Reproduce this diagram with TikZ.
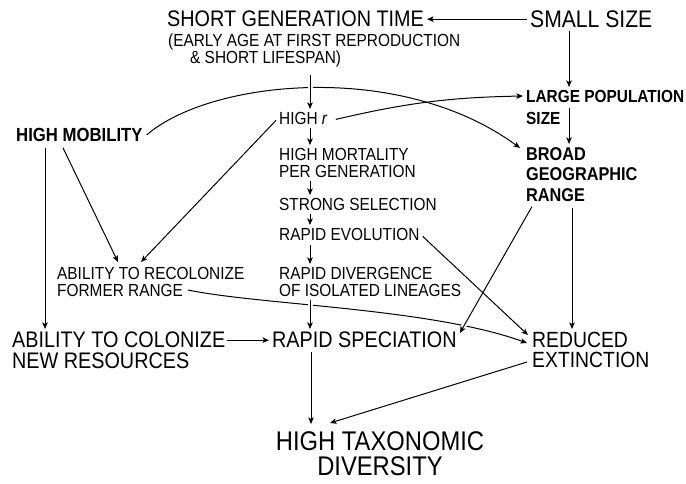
\documentclass[tikz,border=0pt]{standalone}
\usepackage{fontspec}
\setmainfont{Liberation Sans}[FakeStretch=0.88]
\usetikzlibrary{arrows.meta,calc}
\begin{document}
\begin{tikzpicture}[x=1pt,y=-1pt,
  lbl/.style={inner sep=0pt, anchor=north west, align=left},
  fsm/.style={font=\fontsize{17.5}{17}\selectfont},
  fmid/.style={font=\fontsize{22.5}{21}\selectfont},
  arr/.style={line width=1pt, -{Stealth[length=6.5pt,width=5.5pt,inset=1.5pt]}},
  gap/.style={preaction={draw,white,line width=5pt,-}}
]
\useasboundingbox (0,0) rectangle (686,483);

% nodes
\node[lbl,font=\fontsize{22.5}{22}\selectfont] (sgt) at (167,11) {SHORT GENERATION TIME};
\node[lbl,fsm] (early) at (168,34) {(EARLY AGE AT FIRST REPRODUCTION\\\hspace*{22pt}\& SHORT LIFESPAN)};
\node[lbl,font=\fontsize{24}{24}\selectfont] (ss) at (530,11) {SMALL SIZE};
\node[lbl,font=\bfseries\fontsize{19}{19}\selectfont] (hm) at (16,128) {HIGH MOBILITY};
\node[lbl,fsm] (hr) at (279,112) {HIGH \textit{r}};
\node[lbl,font=\bfseries\fontsize{17.5}{22}\selectfont] (lps) at (526,90) {LARGE POPULATION\\SIZE};
\node[lbl,font=\bfseries\fontsize{18.5}{20.5}\selectfont] (bgr) at (526,147) {BROAD\\GEOGRAPHIC\\RANGE};
\node[lbl,fsm] (hmort) at (279,148) {HIGH MORTALITY\\PER GENERATION};
\node[lbl,fsm] (sel) at (279,198) {STRONG SELECTION};
\node[lbl,fsm] (re) at (279,228) {RAPID EVOLUTION};
\node[lbl,fsm] (rd) at (279,267) {RAPID DIVERGENCE\\OF ISOLATED LINEAGES};
\node[lbl,fsm] (arc) at (57,267) {ABILITY TO RECOLONIZE\\FORMER RANGE};
\node[lbl,fmid] (atc) at (12,332) {ABILITY TO COLONIZE\\NEW RESOURCES};
\node[lbl,fmid] (rs) at (272,332) {RAPID SPECIATION};
\node[lbl,font=\fontsize{22}{20}\selectfont] (rex) at (532,332) {REDUCED\\EXTINCTION};
\node[inner sep=0pt,anchor=north,align=center,font=\fontsize{27}{25}\selectfont] (htd) at (380,431) {HIGH TAXONOMIC\\DIVERSITY};

% curves first (they get interrupted by later lines)
\draw[arr] ($(hm.east)+(4,0)$) .. controls (210,80) and (400,60) .. ($(bgr.north west)+(-6,1)$);
\draw[arr] ($(arc.north west)+(131,23)$) .. controls (260,305) and (430,308) .. ($(rex.north west)+(-5,11)$);

% connectors
\draw[arr] ($(ss.west |- sgt.east)+(-3,0)$) -- ($(sgt.east)+(3,0)$);
\draw[arr] ($(ss.south west)+(39,3)$) -- ($(lps.north west)+(43,-3)$);
\draw[arr] ($(lps.north west)+(43,18)$) -- ($(bgr.north west)+(43,-3)$);
\draw[arr,gap] ($(early.south west)+(142,7)$) -- ($(hr.north west)+(31,-3)$);
\draw[arr] ($(hr.south west)+(31,3)$) -- ($(hmort.north west)+(31,-3)$);
\draw[arr] ($(hmort.south west)+(31,3)$) -- ($(sel.north west)+(31,-3)$);
\draw[arr] ($(sel.south west)+(31,3)$) -- ($(re.north west)+(31,-3)$);
\draw[arr] ($(re.south west)+(31,4)$) -- ($(rd.north west)+(31,-3)$);
\draw[arr,gap] ($(rd.south west)+(31,3)$) -- ($(rd.south west |- rs.north)+(31,-3)$);
\draw[arr] ($(rs.south west)+(39,4)$) -- ($(rs.south west |- htd.north)+(39,-7)$);
\draw[arr] ($(rex.north west)+(-5,30)$) -- ($(htd.north)+(-50,-8)$);
\draw[arr] ($(atc.east |- rs.west)+(2,0)$) -- ($(rs.west)+(-3,0)$);
\draw[arr] ($(hm.south west)+(29,6)$) -- ($(atc.north west)+(33,-3)$);
\draw[arr] ($(hm.south west)+(47,6)$) -- ($(arc.north west)+(61,-5)$);
\draw[arr] ($(hr.west)+(-3,2)$) -- ($(arc.north west)+(84,-5)$);
\draw[arr] ($(hr.east)+(8,1)$) to[bend left=6] ($(lps.north west)+(-3,6)$);
\draw[arr,gap] ($(bgr.south west)+(6,5)$) -- ($(rs.north east)+(3,1)$);
\draw[arr] ($(re.east)+(3,2)$) -- ($(rex.north west)+(-4,3)$);
\draw[arr] ($(bgr.south west)+(46,6)$) -- ($(bgr.south west |- rex.north)+(46,-3)$);
\end{tikzpicture}
\end{document}
